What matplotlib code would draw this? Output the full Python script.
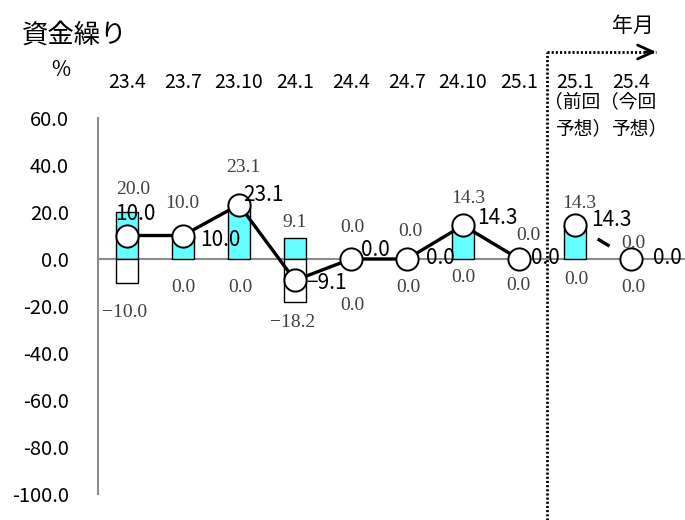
import matplotlib
matplotlib.use('Agg')
import matplotlib.pyplot as plt
import matplotlib.transforms as mtransforms

plt.rcParams['font.family'] = ['Noto Sans CJK JP', 'DejaVu Sans']
plt.rcParams['lines.scale_dashes'] = False

# data
periods = ['23.4', '23.7', '23.10', '24.1', '24.4', '24.7', '24.10', '25.1', '25.1', '25.4']
notes_top = ['', '', '', '', '', '', '', '', '（前回', '（今回']
notes_bottom = ['', '', '', '', '', '', '', '', '予想）', '予想）']
pos_share = [20.0, 10.0, 23.1, 9.1, 0.0, 0.0, 14.3, 0.0, 14.3, 0.0]
neg_share = [-10.0, 0.0, 0.0, -18.2, 0.0, 0.0, 0.0, 0.0, 0.0, 0.0]
di = [10.0, 10.0, 23.1, -9.1, 0.0, 0.0, 14.3, 0.0, 14.3, 0.0]
yticks = [60, 40, 20, 0, -20, -40, -60, -80, -100]
n_actual = 8  # first 8 are actual, the rest are forecasts

# label offsets in pixels (layout only)
di_off = [(8, 22), (37, -4), (24, 10), (32, -3), (24, 9), (33, 1), (34, 7), (26, 1), (36, 5), (36, 1)]
pos_off = [(6, 22), (-1, 32), (4, 37), (0, 15), (1, 32), (3, 27), (5, 27), (9, 24), (4, 22), (2, 16)]
neg_off = [(-2, -30), (0, -28), (1, -28), (-2, -21), (1, -46), (1, -28), (0, -18), (-1, -26), (1, -21), (2, -29)]

W, H = 685, 520
fig = plt.figure(figsize=(W / 100, H / 100), dpi=100, facecolor='white')
ax = fig.add_axes([98 / W, 26 / H, (W - 98) / W, 376 / H])
x = list(range(len(periods)))
ax.set_xlim(-29 / 56, (W - 127) / 56)
ax.set_ylim(-100, 60)

# bars
ax.bar(x, pos_share, width=0.41, color='#66FFFF', edgecolor='black',
       linewidth=[1 if v else 0 for v in pos_share], zorder=2)
ax.bar(x, neg_share, width=0.41, color='white', edgecolor='black',
       linewidth=[1 if v else 0 for v in neg_share], zorder=2)

ax.axhline(0, color='#8c8c8c', lw=1.5, zorder=1)

# DI line
ax.plot(x[:n_actual], di[:n_actual], color='black', lw=2.4, zorder=3)
ax.plot(x[n_actual:], di[n_actual:], color='black', lw=2.4, zorder=3,
        linestyle=(13, (10, 22)))
ax.plot(x, di, 'o', ms=16, mfc='white', mec='black', mew=1.4, zorder=4)

def fmt(v):
    return f'{v:.1f}'.replace('-', '−')

serif = ['Liberation Serif', 'DejaVu Serif']
for i in x:
    ax.annotate(fmt(pos_share[i]), (i, pos_share[i]), xytext=pos_off[i], textcoords='offset pixels',
                ha='center', va='center', fontsize=14, family=serif, color='#404040', zorder=5)
    ax.annotate(fmt(neg_share[i]), (i, neg_share[i]), xytext=neg_off[i], textcoords='offset pixels',
                ha='center', va='center', fontsize=14, family=serif, color='#404040', zorder=5)
    ax.annotate(fmt(di[i]), (i, di[i]), xytext=di_off[i], textcoords='offset pixels',
                ha='center', va='center', fontsize=15, color='black', zorder=6)

# axes styling
for s in ['top', 'right', 'bottom']:
    ax.spines[s].set_visible(False)
ax.spines['left'].set_color('#8c8c8c')
ax.spines['left'].set_linewidth(1.5)
ax.set_xticks([])
ax.set_yticks(yticks)
ax.set_yticklabels([f'{v:.1f}' for v in yticks], fontsize=14.5)
ax.tick_params(axis='y', length=0, pad=21)

# period labels at the top
tr = mtransforms.blended_transform_factory(ax.transData, fig.transFigure)
for i in x:
    ax.text(i, 1 - 82 / H, periods[i], transform=tr, ha='center', va='center', fontsize=14, clip_on=False)
    if notes_top[i]:
        ax.text(i - 0.56, 1 - 102 / H, notes_top[i], transform=tr, ha='left', va='center',
                fontsize=13.5, clip_on=False)
        ax.text(i - 0.36, 1 - 129 / H, notes_bottom[i], transform=tr, ha='left', va='center',
                fontsize=13.5, clip_on=False)

# forecast divider and arrow
xd = n_actual - 0.5
ax.plot([xd, xd], [0, 1 - 52 / H], transform=tr, color='black', lw=2,
        linestyle=(0, (1.5, 1.5)), clip_on=False, zorder=7)
ax.plot([xd, 9.45], [1 - 52 / H, 1 - 52 / H], transform=tr, color='black', lw=2,
        linestyle=(0, (1.5, 1.5)), clip_on=False, zorder=7)
ax.annotate('', xy=(9.5, 1 - 52 / H), xytext=(9.2, 1 - 52 / H), xycoords=tr, textcoords=tr,
            arrowprops=dict(arrowstyle='->,head_length=1.1,head_width=0.5', color='black', lw=2))

fig.text(22 / W, 1 - 35 / H, '資金繰り', fontsize=19, ha='left', va='center')
fig.text(61 / W, 1 - 70 / H, '%', fontsize=15, ha='center', va='center')
fig.text(633 / W, 1 - 26 / H, '年月', fontsize=15, ha='center', va='center')

fig.savefig('out.png', dpi=100, facecolor='white')
